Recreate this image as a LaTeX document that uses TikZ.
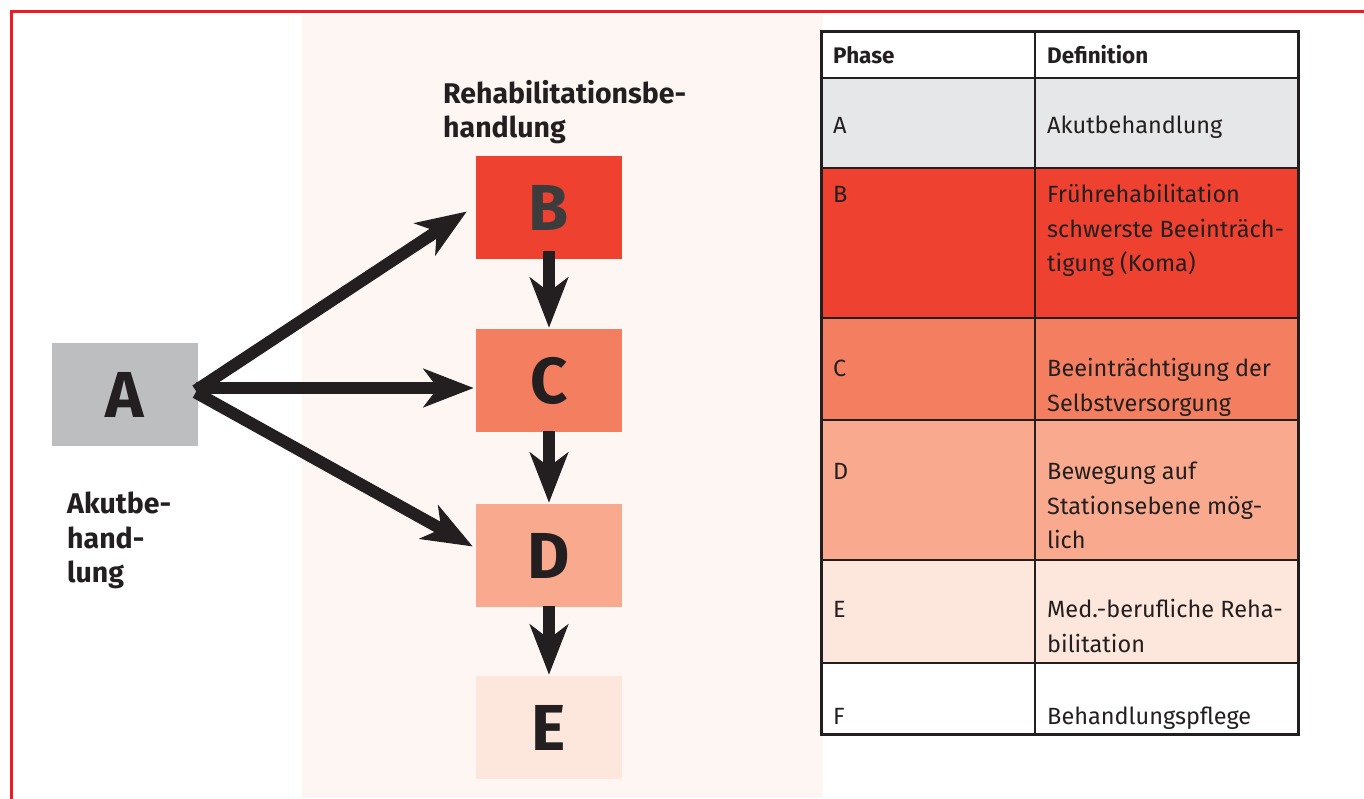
\documentclass[tikz,border=0pt]{standalone}
\usepackage{fontspec}
\setmainfont{Fira Sans}
\usetikzlibrary{arrows.meta,calc}
\definecolor{ink}{HTML}{231F20}
\definecolor{inkB}{HTML}{3C3C3C}
\definecolor{frame}{HTML}{ED1C24}
\definecolor{panel}{HTML}{FEF6F3}
\definecolor{cA}{HTML}{BCBEC0}
\definecolor{rA}{HTML}{E6E7E8}
\definecolor{cB}{HTML}{EF4130}
\definecolor{cC}{HTML}{F37F60}
\definecolor{cD}{HTML}{F9AA8E}
\definecolor{cE}{HTML}{FDE6DB}
\tikzset{
  phasebox/.style={rectangle, minimum width=146pt, minimum height=103pt, inner sep=0pt,
    text=ink, font=\fontsize{65}{65}\selectfont\bfseries},
  bigarrow/.style={draw=ink, line width=12pt,
    -{Stealth[length=50pt, width=38pt, inset=14pt]}},
  lbl/.style={anchor=base west, inner sep=0pt, text=ink,
    font=\fontsize{28.5}{28.5}\selectfont\bfseries},
  cell/.style={anchor=base west, inner sep=0pt, text=ink,
    font=\fontsize{23.5}{23.5}\selectfont},
  hcell/.style={cell, font=\fontsize{22.5}{22.5}\selectfont\bfseries},
}
\begin{document}
\begin{tikzpicture}[x=1pt,y=-1pt]
\useasboundingbox (0,0) rectangle (1364,798);
\fill[white] (0,0) rectangle (1364,798);
% frame
\draw[frame, line width=3pt] (11.5,800) -- (11.5,11.5) -- (1366,11.5);
% panel
\fill[panel] (302,15) rectangle (823,798);

% boxes
\node[phasebox, fill=cA] (A) at (124.5,394.5) {A};
\node[phasebox, fill=cB, text=inkB] (B) at (549,207.5) {B};
\node[phasebox, fill=cC] (C) at (549,380.5) {C};
\node[phasebox, fill=cD] (D) at (549,555.5) {D};
\node[phasebox, fill=cE] (E) at (549,727.5) {E};

% labels
\node[lbl] (lblR1) at (443,103) {Rehabilitationsbe-};
\node[lbl] (lblR2) at (443,137) {handlung};
\node[lbl] (lblA1) at (67,513) {Akutbe-};
\node[lbl] (lblA2) at (67,548) {hand-};
\node[lbl] (lblA3) at (67,582) {lung};

% arrows
\draw[bigarrow] ([xshift=-2pt,yshift=4pt]A.east) -- ([xshift=-9pt,yshift=-4pt]B.west);
\draw[bigarrow] ([xshift=-2pt,yshift=6.5pt]A.east) -- ([xshift=-2pt,yshift=-7.5pt]C.west);
\draw[bigarrow] ([xshift=-2pt,yshift=2pt]A.east) -- ([xshift=-3pt,yshift=9pt]D.west);
\draw[bigarrow] ([yshift=8pt]B.south) -- ([yshift=1pt]C.north);
\draw[bigarrow] ([yshift=1pt]C.south) -- ([yshift=1pt]D.north);
\draw[bigarrow] ([yshift=1pt]D.south) -- ([yshift=1pt]E.north);

% table fills
\fill[white] (821,31) rectangle (1298,78);
\fill[rA] (821,78) rectangle (1298,168);
\fill[cB] (821,168) rectangle (1298,318);
\fill[cC] (821,318) rectangle (1298,420);
\fill[cD] (821,420) rectangle (1298,560);
\fill[cE] (821,560) rectangle (1298,663);
\fill[white] (821,663) rectangle (1298,734);
% inner lines
\draw[ink, line width=2pt] (1035,31) -- (1035,734);
\foreach \yy in {78,168,318,420,560,663} \draw[ink, line width=2pt] (821,\yy) -- (1298,\yy);
\draw[ink, line width=3pt] (821,31) rectangle (1298,734);

% table text
\node[hcell] (h1) at (833,63) {Phase};
\node[hcell] (h2) at (1047,63) {Definition};
\node[cell] (pA) at (833,133) {A};
\node[cell] (dA) at (1047,133) {Akutbehandlung};
\node[cell] (pB) at (833,202) {B};
\node[cell] (dB1) at (1047,202) {Frührehabilitation};
\node[cell] (dB2) at (1047,237) {schwerste Beeinträch-};
\node[cell] (dB3) at (1047,271) {tigung (Koma)};
\node[cell] (pC) at (833,376) {C};
\node[cell] (dC1) at (1047,376) {Beeinträchtigung der};
\node[cell] (dC2) at (1047,411) {Selbstversorgung};
\node[cell] (pD) at (833,479) {D};
\node[cell] (dD1) at (1047,479) {Bewegung auf};
\node[cell] (dD2) at (1047,514) {Stationsebene mög-};
\node[cell] (dD3) at (1047,548) {lich};
\node[cell] (pE) at (833,617) {E};
\node[cell] (dE1) at (1047,617) {Med.-berufliche Reha-};
\node[cell] (dE2) at (1047,652) {bilitation};
\node[cell] (pF) at (833,724) {F};
\node[cell] (dF) at (1047,724) {Behandlungspflege};
\end{tikzpicture}
\end{document}
